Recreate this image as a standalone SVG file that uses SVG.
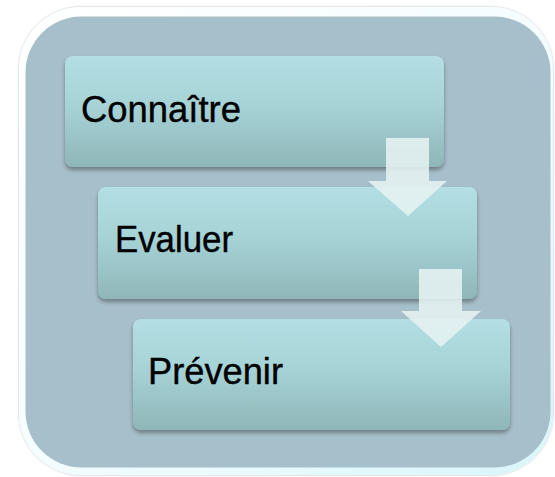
<svg xmlns="http://www.w3.org/2000/svg" width="555" height="477" viewBox="0 0 555 477">
  <defs>
    <linearGradient id="boxGrad" x1="0" y1="0" x2="0" y2="1">
      <stop offset="0" stop-color="#b3dfe4"/>
      <stop offset="0.45" stop-color="#a6d3d6"/>
      <stop offset="1" stop-color="#8fb6b9"/>
    </linearGradient>
    <linearGradient id="frameGrad" x1="0" y1="0" x2="1" y2="1">
      <stop offset="0" stop-color="#ffffff"/>
      <stop offset="0.5" stop-color="#f4fdff"/>
      <stop offset="1" stop-color="#d8f6fb"/>
    </linearGradient>
    <filter id="shadow" x="-10%" y="-10%" width="120%" height="130%">
      <feGaussianBlur in="SourceAlpha" stdDeviation="2"/>
      <feOffset dx="0" dy="3" result="b"/>
      <feComponentTransfer><feFuncA type="linear" slope="0.35"/></feComponentTransfer>
      <feMerge><feMergeNode/><feMergeNode in="SourceGraphic"/></feMerge>
    </filter>
    <filter id="frameShadow" x="-5%" y="-5%" width="110%" height="110%">
      <feGaussianBlur in="SourceAlpha" stdDeviation="1"/>
      <feOffset dx="0" dy="0"/>
      <feComponentTransfer><feFuncA type="linear" slope="0.3"/></feComponentTransfer>
      <feMerge><feMergeNode/><feMergeNode in="SourceGraphic"/></feMerge>
    </filter>
  </defs>
  <style>
    .box { fill: url(#boxGrad); filter: url(#shadow); }
    .label { font-family: "Liberation Sans", Arial, sans-serif; font-size: 36px; fill: #000000; stroke: #000000; stroke-width: 0.4; }
    .arrow { fill: #e6f2f2; fill-opacity: 0.88; }
  </style>

  <g id="frame">
    <rect x="19" y="7" width="534" height="468" rx="62" ry="62" fill="url(#frameGrad)" filter="url(#frameShadow)"/>
    <rect x="25.5" y="16.5" width="525" height="451" rx="56" ry="56" fill="#a7bfca"/>
  </g>

  <g id="node-connaitre">
    <rect class="box" x="65" y="56" width="379" height="111" rx="8" ry="8"/>
    <text class="label" x="81" y="122" textLength="160" lengthAdjust="spacingAndGlyphs">Connaître</text>
  </g>

  <g id="node-evaluer">
    <rect class="box" x="98" y="187" width="379" height="112" rx="8" ry="8"/>
    <text class="label" x="115" y="252" textLength="118" lengthAdjust="spacingAndGlyphs">Evaluer</text>
  </g>

  <g id="node-prevenir">
    <rect class="box" x="133" y="319" width="377" height="111" rx="8" ry="8"/>
    <text class="label" x="148" y="384" textLength="135" lengthAdjust="spacingAndGlyphs">Prévenir</text>
  </g>

  <g id="connectors">
    <polygon class="arrow" points="386,138 429,138 429,181 447,181 408,216 368,181 386,181"/>
    <polygon class="arrow" points="419,269 462,269 462,311 481,311 441,347 401,311 419,311"/>
  </g>
</svg>
